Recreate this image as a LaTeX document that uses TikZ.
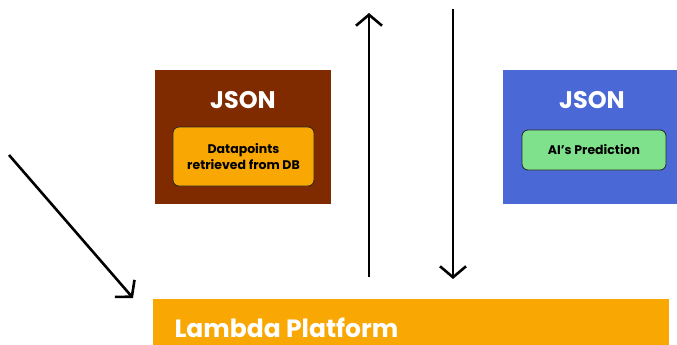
\documentclass[tikz,border=0pt]{standalone}
\usepackage{fontspec}
\setmainfont{Poppins}
\usetikzlibrary{arrows.meta}
\definecolor{jbrown}{RGB}{128,42,0}
\definecolor{jblue}{RGB}{74,104,214}
\definecolor{lorange}{RGB}{249,167,2}
\definecolor{pgreen}{RGB}{128,225,140}
\tikzset{
  panel/.style={draw=none, inner sep=0pt, anchor=north west},
  pill/.style={draw=black!85, line width=0.8pt, rounded corners=6pt, inner sep=0pt, align=center, font=\bfseries\fontsize{12.5}{16}\selectfont},
  title/.style={text=white, font=\bfseries\fontsize{24}{28}\selectfont},
  flow/.style={line width=2.6pt, -{Straight Barb[length=11pt,width=26pt,line width=2.6pt]}}
}
\begin{document}
\begin{tikzpicture}[x=1pt,y=-1pt]
\useasboundingbox (0,0) rectangle (677,345);
% JSON payload from the database
\node[panel, fill=jbrown, minimum width=176pt, minimum height=134pt] (dbjson) at (155,70) {};
\node[title] (dbtitle) at (243,100) {JSON};
\node[pill, fill=lorange, minimum width=141pt, minimum height=59pt] (dbdata) at (243.5,156.5) {Datapoints\\retrieved from DB};
% JSON payload with the model output
\node[panel, fill=jblue, minimum width=175pt, minimum height=134pt] (aijson) at (503,70) {};
\node[title] (aititle) at (592,100) {JSON};
\node[pill, fill=pgreen, minimum width=144pt, minimum height=40pt] (aipred) at (594,150) {AI's Prediction};
% Platform bar
\node[panel, fill=lorange, minimum width=516pt, minimum height=47pt] (lambda) at (153,299) {};
\node[anchor=west, text=white, font=\bfseries\fontsize{25}{30}\selectfont] (lambdatxt) at (171,328) {Lambda Platform};
% Connectors
\coordinate (inA) at (9,155);
\coordinate (inB) at (133,298);
\coordinate (upA) at (369,277);
\coordinate (upB) at (369,13);
\coordinate (dnA) at (453,9);
\coordinate (dnB) at (453,279);
\draw[flow] (inA) -- (inB);
\draw[flow] (upA) -- (upB);
\draw[flow] (dnA) -- (dnB);
\end{tikzpicture}
\end{document}
